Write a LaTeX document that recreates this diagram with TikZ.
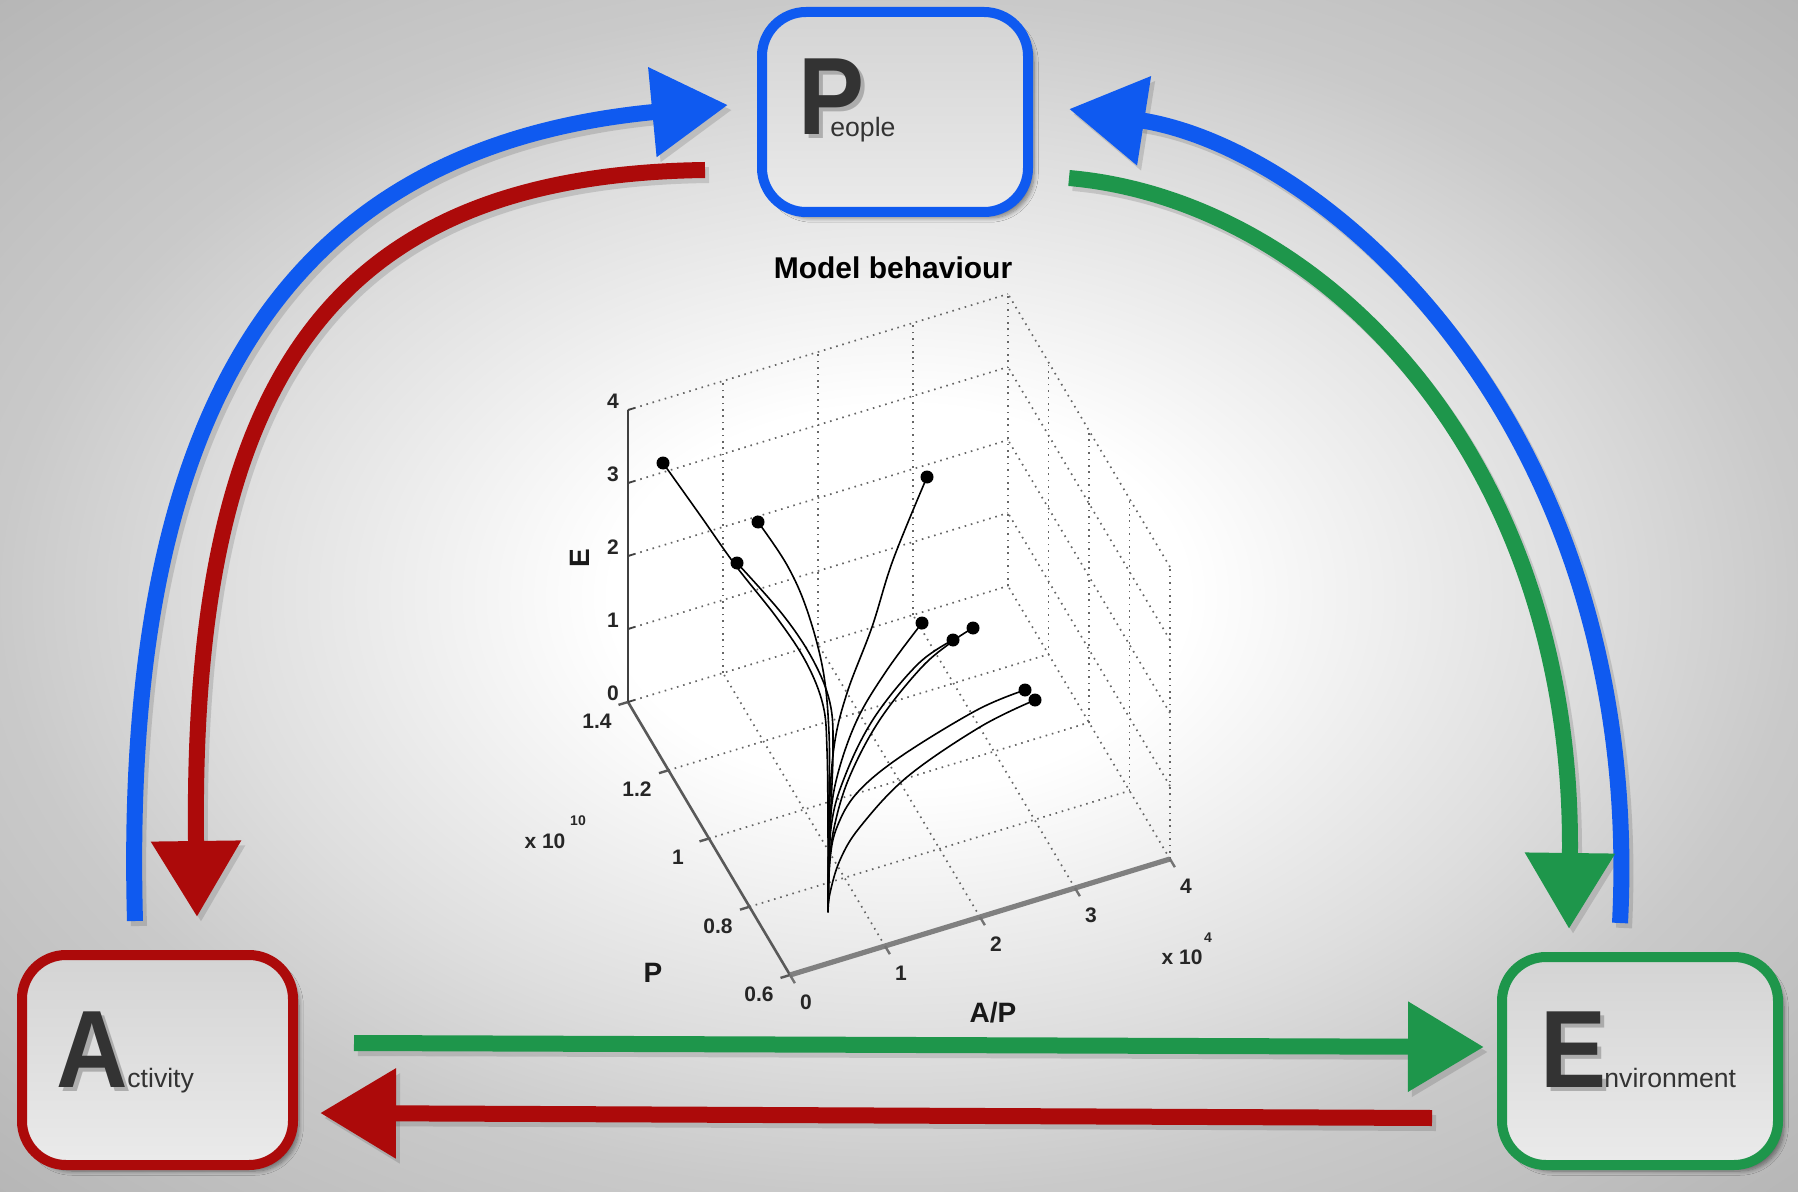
\documentclass[tikz,border=0pt]{standalone}
\usepackage{fontspec}
\setmainfont{Liberation Sans}
\usetikzlibrary{arrows.meta,shadows.blur}
\definecolor{pblue}{HTML}{0F5AF0}
\definecolor{ared}{HTML}{AC0A0A}
\definecolor{egreen}{HTML}{1E964B}
\definecolor{txtgray}{HTML}{333333}
\pgfdeclareradialshading{bgshade}{\pgfpoint{0bp}{0bp}}{color(0bp)=(white); color(8bp)=(white); color(19bp)=(black!13); color(25bp)=(black!21); color(36bp)=(black!29); color(50bp)=(black!29)}
\newcommand\narrowletter[1]{\scalebox{0.9}[1]{#1}}
\begin{document}
\begin{tikzpicture}[x=0.5pt,y=-0.5pt,
  box/.style={draw=#1, line width=5pt, rounded corners=22pt, top color=black!17, bottom color=black!8,
    blur shadow={shadow xshift=3pt, shadow yshift=-3pt, shadow opacity=45, shadow blur steps=8}, inner sep=0pt},
  bigletter/.style={anchor=base west, inner sep=0pt, text=txtgray, font=\fontsize{55}{60}\selectfont\bfseries},
  smallword/.style={anchor=base west, inner sep=0pt, text=txtgray, font=\fontsize{13.3}{16}\selectfont},
  lettershadow/.style={text=black!45, opacity=0.6},
  bigarrow/.style={line width=8pt, -{Triangle[length=38pt,width=43pt]}},
  arrshadow/.style={draw=black, opacity=0.13, line width=8pt, -{Triangle[length=38pt,width=43pt]}},
  plotgrid/.style={black!60, line width=0.85pt, dash pattern=on 0.8pt off 2.4pt},
  ticklab/.style={inner sep=0pt, font=\fontsize{10.5}{12}\selectfont\bfseries, text=black!85},
  axlab/.style={inner sep=0pt, font=\fontsize{14}{16}\selectfont\bfseries, text=black!90},
  curve/.style={black, line width=0.8pt}
]
\useasboundingbox (0,0) rectangle (1798,1192);
\shade[shading=bgshade] (0,0) rectangle (1798,1192);

% ---------------- plot ----------------
\node[inner sep=0pt, font=\fontsize{15}{17}\selectfont\bfseries] (title) at (893,268) {Model behaviour};
\begin{scope}[shift={(790,975)}, x={(47.5pt,14.5pt)}, y={(-20.25pt,34.125pt)}, z={(0pt,36.5pt)}]
  \foreach \a in {1,2,3,4} \draw[plotgrid] (\a,4,0) -- (\a,4,4);
  \foreach \e in {0,...,4} \draw[plotgrid] (0,4,\e) -- (4,4,\e);
  \foreach \q in {0,1,2,3} \draw[plotgrid] (4,\q,0) -- (4,\q,4);
  \foreach \e in {0,...,4} \draw[plotgrid] (4,0,\e) -- (4,4,\e);
  \foreach \a in {1,2,3} \draw[plotgrid] (\a,0,0) -- (\a,4,0);
  \foreach \q in {1,2,3} \draw[plotgrid] (0,\q,0) -- (4,\q,0);
  \draw[black!75, line width=0.9pt] (0,4,0) -- (0,4,4);
  \draw[black!65, line width=1.3pt] (0,0,0) -- (0,4,0);
  \draw[black!50, line width=2.6pt] (0,0,0) -- (4,0,0);
  \foreach \e in {0,...,4} \draw[black!75, line width=0.9pt] (0,4,\e) -- ++(0.07,0,0);
  \foreach \q in {0,...,4} \draw[black!65, line width=1.2pt] (0,\q,0) -- ++(-0.1,0,0);
  \foreach \a in {0,...,4} \draw[black!55, line width=1.2pt] (\a,0,0) -- ++(0,-0.12,0);
\end{scope}
% tick labels
\foreach \e/\yy in {0/693,1/620,2/547,3/474,4/401} \node[ticklab] (elab\e) at (613,\yy) {\e};
\foreach \t/\xx/\yy in {0.6/759/994, 0.8/718/926, 1/678/857, 1.2/637/789, 1.4/597/721} \node[ticklab] (plab\t) at (\xx,\yy) {\t};
\foreach \t/\xx/\yy in {0/806/1002, 1/901/973, 2/996/944, 3/1091/915, 4/1186/886} \node[ticklab] (alab\t) at (\xx,\yy) {\t};
\node[ticklab] (pexp) at (545,841) {x 10};
\node[ticklab, font=\fontsize{7}{8}\selectfont\bfseries] (pexps) at (578,821) {10};
\node[ticklab] (aexp) at (1182,957) {x 10};
\node[ticklab, font=\fontsize{7}{8}\selectfont\bfseries] (aexps) at (1208,938) {4};
\node[axlab, rotate=90] (elabel) at (580,558) {E};
\node[axlab] (plabel) at (653,973) {P};
\node[axlab] (aplabel) at (993,1013) {A/P};
% trajectories
\draw[curve] plot[smooth, tension=0.6] coordinates {(663,463) (700,515) (736,566) (777,618) (806,662) (823,705) (827,750) (828,830) (828,912)};
\draw[curve] plot[smooth, tension=0.6] coordinates {(737,563) (783,615) (813,660) (830,703) (833,750) (830,830) (828,912)};
\draw[curve] plot[smooth, tension=0.6] coordinates {(758,522) (787,565) (807,610) (823,670) (829,733) (829,800) (828,912)};
\draw[curve] plot[smooth, tension=0.6] coordinates {(927,477) (893,560) (872,627) (847,693) (834,747) (829,820) (828,912)};
\draw[curve] plot[smooth, tension=0.6] coordinates {(922,623) (887,670) (857,720) (837,777) (830,827) (828,912)};
\draw[curve] plot[smooth, tension=0.6] coordinates {(973,628) (953,641) (921,668) (879,721) (849,778) (834,828) (829,870) (828,912)};
\draw[curve] plot[smooth, tension=0.6] coordinates {(953,640) (918,664) (874,718) (845,776) (831,828) (828,912)};
\draw[curve] plot[smooth, tension=0.6] coordinates {(1025,690) (977,710) (900,757) (857,793) (837,827) (830,860) (828,912)};
\draw[curve] plot[smooth, tension=0.6] coordinates {(1035,700) (980,727) (907,777) (860,827) (840,860) (830,893) (828,912)};
\foreach \mx/\my in {663/463, 758/522, 737/563, 927/477, 922/623, 953/640, 973/628, 1025/690, 1035/700}
  \fill[black] (\mx,\my) circle[radius=6.5];

% ---------------- boxes ----------------
\node[box=pblue, minimum width=133pt, minimum height=100pt] (people) at (895,112) {};
\node[box=ared, minimum width=135.5pt, minimum height=105pt] (activity) at (157.5,1060) {};
\node[box=egreen, minimum width=138pt, minimum height=104pt] (environment) at (1640,1061) {};

% ---------------- connectors ----------------
\coordinate (blA) at (135,921);  \coordinate (blP) at (728,105);
\coordinate (rdP) at (705,170);  \coordinate (rdA) at (197,917);
\coordinate (brE) at (1620,923); \coordinate (brP) at (1069,109);
\coordinate (grP) at (1069,178); \coordinate (grE) at (1569,929);
\coordinate (ghA) at (354,1043); \coordinate (ghE) at (1484,1047);
\coordinate (rhE) at (1432,1118); \coordinate (rhA) at (320,1113);

\begin{scope}[transform canvas={shift={(2pt,-2.5pt)}}]
\draw[arrshadow] (blA) .. controls (120,380) and (305,145) .. (blP);
\draw[arrshadow] (rdP) .. controls (330,175) and (190,380) .. (rdA);
\draw[arrshadow] (brE) .. controls (1645,430) and (1330,150) .. (brP);
\draw[arrshadow] (grP) .. controls (1320,200) and (1575,455) .. (grE);
\draw[arrshadow] (ghA) -- (ghE);
\draw[arrshadow] (rhE) -- (rhA);
\end{scope}
\draw[bigarrow, pblue] (blA) .. controls (120,380) and (305,145) .. (blP);
\draw[bigarrow, ared] (rdP) .. controls (330,175) and (190,380) .. (rdA);
\draw[bigarrow, pblue] (brE) .. controls (1645,430) and (1330,150) .. (brP);
\draw[bigarrow, egreen] (grP) .. controls (1320,200) and (1575,455) .. (grE);
\draw[bigarrow, egreen] (ghA) -- (ghE);
\draw[bigarrow, ared] (rhE) -- (rhA);

% ---------------- box texts ----------------
\node[bigletter, lettershadow] (pshadow) at (802,139) {\narrowletter{P}};
\node[bigletter] (pletter) at (798,135) {\narrowletter{P}};
\node[smallword] (pword) at (830,137) {eople};
\node[bigletter, lettershadow] (ashadow) at (60,1091) {\narrowletter{A}};
\node[bigletter] (aletter) at (56,1087) {\narrowletter{A}};
\node[smallword] (aword) at (127,1087) {ctivity};
\node[bigletter, lettershadow] (eshadow) at (1544,1091) {\narrowletter{E}};
\node[bigletter] (eletter) at (1540,1087) {\narrowletter{E}};
\node[smallword] (eword) at (1604,1087) {nvironment};
\end{tikzpicture}
\end{document}
